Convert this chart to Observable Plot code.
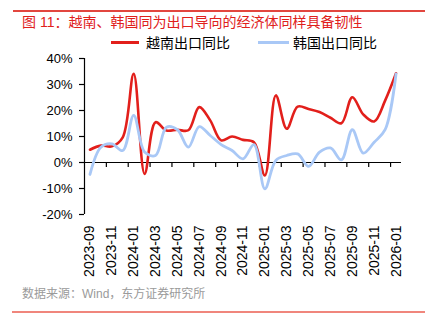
<!DOCTYPE html>
<html>
<head>
<meta charset="utf-8">
<script src="https://cdn.jsdelivr.net/npm/d3@7"></script>
<script src="https://cdn.jsdelivr.net/npm/@observablehq/plot@0.6"></script>
<style>
  body { margin: 0; background: #fff; }
  #wrap { position: relative; width: 430px; height: 333px; font-family: "Liberation Sans", Arial, "Noto Sans CJK SC", sans-serif; overflow: hidden; }
  .abs { position: absolute; white-space: nowrap; }
</style>
</head>
<body>
<div id="wrap">
  <div class="abs" style="left:13px;top:10px;width:412px;height:1.5px;background:#e2463f"></div>
  <div class="abs" id="title" style="left:22px;top:13px;font-size:14px;line-height:18px;color:#e0201b;"></div>
  <div class="abs" id="legend" style="left:0;top:34px;width:430px;height:18px;font-size:14px;line-height:18px;color:#000;"></div>
  <div class="abs" id="chart" style="left:0;top:50px;"></div>
  <div class="abs" id="caption" style="left:22px;top:286px;font-size:12px;line-height:16px;color:#9a9a9a;"></div>
  <div class="abs" style="left:12px;top:311px;width:413px;height:1.5px;background:#f0867c"></div>
</div>
<script>
const titleText = "图 11：越南、韩国同为出口导向的经济体同样具备韧性";
const captionText = "数据来源：Wind，东方证券研究所";
const seriesNames = ["越南出口同比", "韩国出口同比"];
const seriesColors = ["#e21f1b", "#a9c8f6"];

const months = ["2023-09","2023-10","2023-11","2023-12","2024-01","2024-02","2024-03","2024-04","2024-05","2024-06","2024-07","2024-08","2024-09","2024-10","2024-11","2024-12","2025-01","2025-02","2025-03","2025-04","2025-05","2025-06","2025-07","2025-08","2025-09","2025-10","2025-11","2025-12","2026-01"];
const vietnam = [4.9, 6.5, 6.2, 9.7, 34.1, -4.4, 15.5, 12.3, 12.6, 12.4, 21.3, 16.2, 8.5, 10.0, 8.7, 7.8, -5.0, 25.8, 13.0, 21.5, 20.6, 19.4, 17.2, 15.1, 25.1, 18.5, 15.8, 23.8, 34.3];
const korea = [-4.6, 5.9, 7.2, 4.6, 18.1, 4.0, 2.7, 13.6, 12.6, 5.9, 13.8, 10.4, 6.9, 4.6, 1.4, 6.9, -10.1, 0.8, 2.7, 3.3, -1.5, 4.0, 5.6, 1.0, 12.6, 3.6, 7.8, 12.6, 34.1];
const yTicks = [-20, -10, 0, 10, 20, 30, 40];

document.getElementById("title").textContent = titleText;
document.getElementById("caption").textContent = captionText;

// legend
const legend = document.getElementById("legend");
const legendPos = [{sw: 111, swW: 28, tx: 146}, {sw: 258, swW: 31, tx: 293}];
seriesNames.forEach((name, k) => {
  const sw = document.createElement("div");
  sw.className = "abs";
  sw.style.cssText = `left:${legendPos[k].sw}px;top:7px;width:${legendPos[k].swW}px;height:3px;background:${seriesColors[k]}`;
  legend.appendChild(sw);
  const t = document.createElement("div");
  t.className = "abs";
  t.style.cssText = `left:${legendPos[k].tx}px;top:0px;`;
  t.textContent = name;
  legend.appendChild(t);
});

const idx = months.map((m, i) => i);
const vData = idx.map(i => ({i, v: vietnam[i]}));
const kData = idx.map(i => ({i, v: korea[i]}));
const labelIdx = idx.filter(i => i % 2 === 0);
const boundaries = idx.filter(i => i % 2 === 1).map(i => i + 0.5);

const chart = Plot.plot({
  width: 430,
  height: 232,
  marginLeft: 84,
  marginRight: 29,
  marginTop: 8,
  marginBottom: 68,
  x: {type: "linear", domain: [-0.5, months.length - 0.5], label: null},
  y: {domain: [-20, 40], label: null},
  style: {fontFamily: "'Liberation Sans', Arial, sans-serif", color: "#000", background: "transparent", overflow: "visible"},
  marks: [
    Plot.axisY({ticks: yTicks, tickFormat: d => d + "%", tickSize: 5, tickPadding: 7, fontSize: 13, stroke: "#000", strokeWidth: 1.2, label: null}),
    Plot.ruleX([-0.5], {y1: -20, y2: 40, stroke: "#000", strokeWidth: 1.2}),
    Plot.ruleY([0], {stroke: "#000", strokeWidth: 1.2}),
    Plot.ruleX(boundaries, {y1: 0, y2: -1.9, stroke: "#000", strokeWidth: 1.2}),
    Plot.axisX({ticks: labelIdx, tickFormat: i => months[i], tickSize: 0, tickPadding: 11, tickRotate: -90, fontSize: 14, label: null}),
    Plot.line(vData, {x: "i", y: "v", stroke: seriesColors[0], strokeWidth: 2.6, curve: "catmull-rom"}),
    Plot.line(kData, {x: "i", y: "v", stroke: seriesColors[1], strokeWidth: 2.8, curve: "catmull-rom"})
  ]
});
document.getElementById("chart").appendChild(chart);
</script>
</body>
</html>
